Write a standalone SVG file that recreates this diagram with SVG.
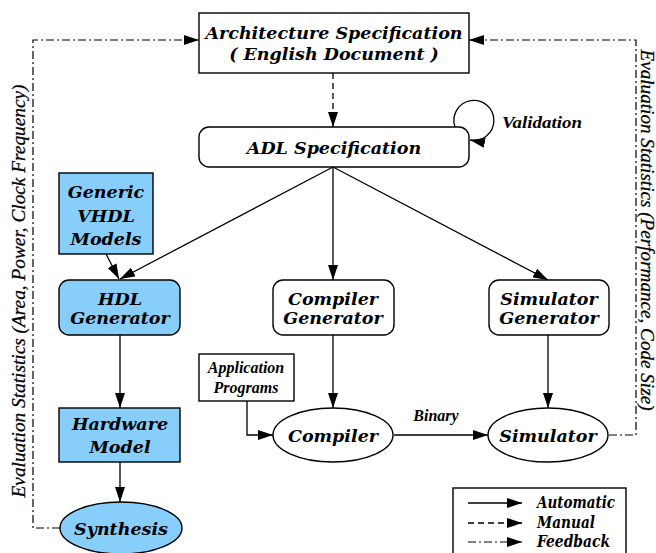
<svg xmlns="http://www.w3.org/2000/svg" width="656" height="553" viewBox="0 0 656 553">
<defs>
<marker id="ah" markerUnits="userSpaceOnUse" markerWidth="15" markerHeight="10" refX="15" refY="5" orient="auto">
<path d="M0,0 L15,5 L0,10 z" fill="#000"/>
</marker>
<style>
.box{fill:#fff;stroke:#000;stroke-width:1.4}
.blue{fill:#87cefa;stroke:#000;stroke-width:1.4}
.lbl{font-family:"DejaVu Serif","Liberation Serif",serif;font-weight:bold;font-style:italic;font-size:17.5px;text-anchor:middle;fill:#000}
.leg{font-family:"DejaVu Serif","Liberation Serif",serif;font-weight:bold;font-style:italic;font-size:16px;fill:#000}
.sm{font-family:"Liberation Serif",serif;font-weight:bold;font-style:italic;font-size:16px;fill:#000}
.rot{font-family:"Liberation Serif",serif;font-style:italic;font-size:18.5px;text-anchor:middle;fill:#000;stroke:#000;stroke-width:0.25}
.auto{fill:none;stroke:#000;stroke-width:1.3;marker-end:url(#ah)}
.man{fill:none;stroke:#000;stroke-width:1.3;stroke-dasharray:6 4;marker-end:url(#ah)}
.fb{fill:none;stroke:#000;stroke-width:1.2;stroke-dasharray:8 3 2 3;marker-end:url(#ah)}
</style>
</defs>
<rect width="656" height="553" fill="#fff"/>

<g id="connectors">
<path class="man" d="M333,73 L333,127"/>
<path class="auto" d="M455,127 A20,20 0 1 1 470,140"/>
<path class="auto" d="M333,167 L120,279"/>
<path class="auto" d="M333,167 L333,280"/>
<path class="auto" d="M333,167 L548,280"/>
<path class="auto" d="M106,254 L119,279"/>
<path class="auto" d="M120,335 L120,408"/>
<path class="auto" d="M120,462 L120,502"/>
<path class="auto" d="M333,335 L333,408"/>
<path class="auto" d="M548,335 L548,408"/>
<path class="auto" d="M247,401 L247,435 L273,435"/>
<path class="auto" d="M394,435 L488,435"/>
<path class="fb" d="M60,528 L33,528 L33,40 L199,40"/>
<path class="fb" d="M609,435 L636,435 L636,40 L469,40"/>
</g>

<g id="arch-spec">
<rect class="box" x="199" y="13" width="270" height="60"/>
<text class="lbl" x="334" y="39">Architecture Specification</text>
<text class="lbl" x="334" y="60">( English Document )</text>
</g>

<g id="adl-spec">
<rect class="box" x="199" y="127" width="270" height="40" rx="10"/>
<text class="lbl" x="334" y="154">ADL Specification</text>
</g>
<text class="sm" x="502" y="128" font-size="19" textLength="80" lengthAdjust="spacingAndGlyphs">Validation</text>

<g id="generic-vhdl">
<rect class="blue" x="59" y="173" width="94" height="81"/>
<text class="lbl" x="106" y="198">Generic</text>
<text class="lbl" x="106" y="222">VHDL</text>
<text class="lbl" x="106" y="245">Models</text>
</g>

<g id="hdl-generator">
<rect class="blue" x="59" y="280" width="121" height="55" rx="10"/>
<text class="lbl" x="120" y="305">HDL</text>
<text class="lbl" x="120" y="324">Generator</text>
</g>

<g id="hardware-model">
<rect class="blue" x="59" y="408" width="121" height="54"/>
<text class="lbl" x="120" y="430">Hardware</text>
<text class="lbl" x="120" y="453">Model</text>
</g>

<g id="synthesis">
<ellipse class="blue" cx="121" cy="528" rx="61" ry="26"/>
<text class="lbl" x="121" y="535">Synthesis</text>
</g>

<g id="compiler-generator">
<rect class="box" x="273" y="280" width="121" height="55" rx="10"/>
<text class="lbl" x="333" y="305">Compiler</text>
<text class="lbl" x="333" y="324">Generator</text>
</g>

<g id="simulator-generator">
<rect class="box" x="489" y="280" width="120" height="55" rx="10"/>
<text class="lbl" x="549" y="305">Simulator</text>
<text class="lbl" x="549" y="324">Generator</text>
</g>

<g id="application-programs">
<rect class="box" x="199" y="354" width="95" height="47"/>
<text class="sm" x="246" y="373" font-size="15.5" text-anchor="middle">Application</text>
<text class="sm" x="246" y="393" font-size="15.5" text-anchor="middle">Programs</text>
</g>

<g id="compiler">
<ellipse class="box" cx="333" cy="435" rx="60" ry="27"/>
<text class="lbl" x="333" y="442">Compiler</text>
</g>
<text class="sm" x="436" y="421" font-size="15.5" text-anchor="middle">Binary</text>

<g id="simulator">
<ellipse class="box" cx="548" cy="435" rx="60" ry="27"/>
<text class="lbl" x="548" y="442">Simulator</text>
</g>

<text class="rot" transform="translate(25,291) rotate(-90)" textLength="413" lengthAdjust="spacingAndGlyphs">Evaluation Statistics (Area, Power, Clock Frequency)</text>
<text class="rot" transform="translate(641,230) rotate(90)" textLength="361" lengthAdjust="spacingAndGlyphs">Evaluation Statistics (Performance, Code Size)</text>

<g id="legend">
<rect class="box" x="453" y="488" width="173" height="75"/>
<path class="auto" d="M468,503 L522,503"/>
<path class="man" d="M468,523 L522,523"/>
<path class="fb" d="M468,542 L522,542"/>
<text class="leg" x="537" y="508" textLength="78" lengthAdjust="spacingAndGlyphs">Automatic</text>
<text class="leg" x="537" y="528" textLength="58" lengthAdjust="spacingAndGlyphs">Manual</text>
<text class="leg" x="537" y="547" textLength="73" lengthAdjust="spacingAndGlyphs">Feedback</text>
</g>
</svg>
